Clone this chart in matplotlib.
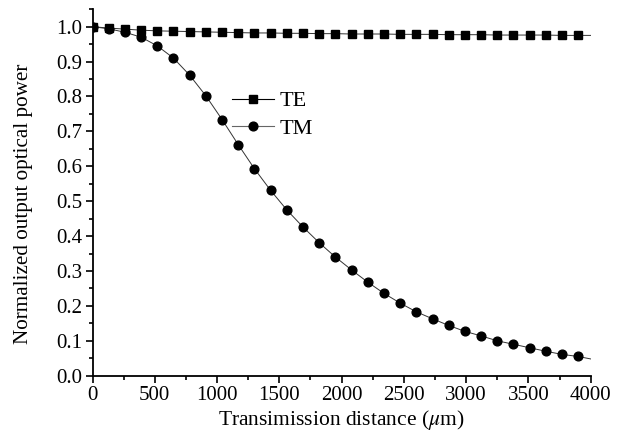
import matplotlib
matplotlib.use("Agg")
import matplotlib.pyplot as plt
from matplotlib.ticker import MultipleLocator, FormatStrFormatter
from matplotlib.lines import Line2D

plt.rcParams['font.family'] = ['Liberation Serif', 'DejaVu Serif']
plt.rcParams['mathtext.fontset'] = 'stix'

# distance in um
distance = [0, 130, 260, 390, 520, 650, 780, 910, 1040, 1170, 1300, 1430, 1560, 1690,
            1820, 1950, 2080, 2210, 2340, 2470, 2600, 2730, 2860, 2990, 3120, 3250,
            3380, 3510, 3640, 3770, 3900]
te_power = [1.000, 0.996, 0.993, 0.990, 0.988, 0.987, 0.986, 0.985, 0.984, 0.983,
            0.982, 0.982, 0.981, 0.981, 0.980, 0.980, 0.979, 0.979, 0.979, 0.978,
            0.978, 0.978, 0.977, 0.977, 0.977, 0.976, 0.976, 0.976, 0.976, 0.975, 0.975]
tm_power = [1.000, 0.994, 0.984, 0.970, 0.945, 0.910, 0.861, 0.802, 0.734, 0.662,
            0.593, 0.531, 0.475, 0.426, 0.381, 0.340, 0.303, 0.268, 0.236, 0.208,
            0.183, 0.163, 0.144, 0.127, 0.114, 0.100, 0.090, 0.080, 0.070, 0.061, 0.055]
# fitted curve continues to the end of the axis
line_end_x = 4000
te_line_end = 0.975
tm_line_end = 0.048

fig = plt.figure(figsize=(6.18, 4.37), dpi=100)
ax = fig.add_axes([0.1497, 0.1403, 0.8061, 0.8386])

lc = '#333333'
ax.plot(distance + [line_end_x], te_power + [te_line_end], color=lc, lw=0.7, zorder=2)
ax.plot(distance + [line_end_x], tm_power + [tm_line_end], color=lc, lw=0.7, zorder=2)
ax.plot(distance, te_power, linestyle='none', marker='s', ms=5.2, color='black', zorder=3)
ax.plot(distance, tm_power, linestyle='none', marker='o', ms=6.3, color='black', zorder=3)

h_te = Line2D([], [], color='black', lw=0.8, marker='s', ms=5.2)
h_tm = Line2D([], [], color='#666666', lw=0.8, marker='o', ms=6.3, mfc='black', mec='black')
ax.legend([h_te, h_tm], ['TE', 'TM'], loc='center left', bbox_to_anchor=(0.28, 0.712),
          frameon=False, fontsize=16, handlelength=1.9, handletextpad=0.25,
          labelspacing=0.3, borderpad=0, borderaxespad=0)

ax.set_xlim(0, 4000)
ax.set_ylim(0, 1.05)
ax.xaxis.set_major_locator(MultipleLocator(500))
ax.xaxis.set_minor_locator(MultipleLocator(250))
ax.yaxis.set_major_locator(MultipleLocator(0.1))
ax.yaxis.set_minor_locator(MultipleLocator(0.05))
ax.yaxis.set_major_formatter(FormatStrFormatter('%.1f'))

for s in ['top', 'right']:
    ax.spines[s].set_visible(False)
for s in ['left', 'bottom']:
    ax.spines[s].set_linewidth(1.3)
ax.tick_params(which='major', direction='out', length=5, width=1.2, labelsize=15, pad=2.5)
ax.tick_params(which='minor', direction='out', length=3, width=1.2)

ax.set_xlabel(r'Transimission distance ($\mu$m)', fontsize=15.5, labelpad=2)
ax.set_ylabel('Normalized output optical power', fontsize=15.2)
ax.yaxis.set_label_coords(-0.12, 0.468)

fig.savefig('out.png', dpi=100)
